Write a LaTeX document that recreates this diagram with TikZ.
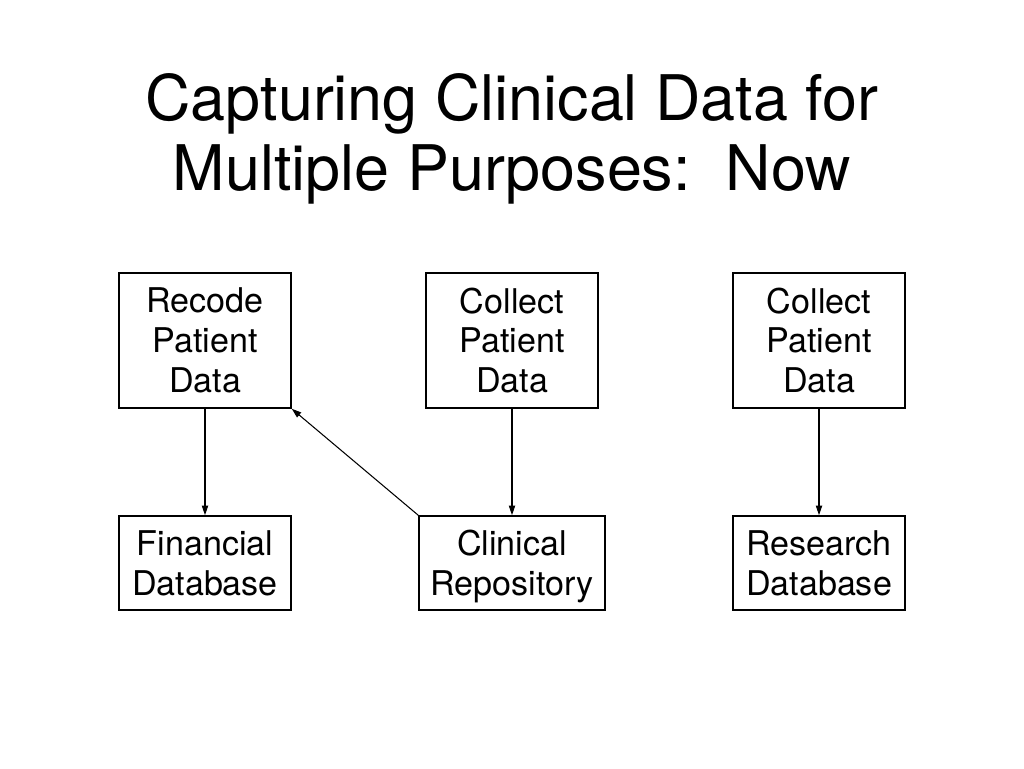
\documentclass[tikz,border=0pt]{standalone}
\usepackage{fontspec}
\setmainfont{TeX Gyre Heros}
\usetikzlibrary{arrows.meta}

\begin{document}
\begin{tikzpicture}[x=0.02cm, y=-0.02cm, line width=0.6pt,
		box/.style={draw, line width=0.9pt, align=center, inner sep=0pt,
			minimum width=3.44cm, font=\fontsize{19.4}{22.7}\selectfont},
		topbox/.style={box, minimum height=2.7cm},
		lowbox/.style={box, minimum height=1.88cm},
		link/.style={-{Triangle[length=5.5pt, width=3.6pt]}}]
		\useasboundingbox (0,0) rectangle (1024,768);

		\node[align=center, font=\fontsize{35.8}{39.7}\selectfont] (title) at (512,139)
			{Capturing Clinical Data for\\Multiple Purposes:\ \ Now};

		\node[topbox] (recode) at (205,340.5) {Recode\\Patient\\Data};
		\node[topbox] (collectA) at (512,340.5) {Collect\\Patient\\Data};
		\node[topbox] (collectB) at (819,340.5) {Collect\\Patient\\Data};

		\node[lowbox] (financial) at (205,563) {Financial\\Database};
		\node[lowbox, minimum width=3.72cm] (clinical) at (512,563)
			{Clinical\\\raisebox{0pt}[\height][0pt]{Repository}};
		\node[lowbox] (research) at (819,563) {Research\\Database};

		\foreach \a/\b in {recode/financial, collectA/clinical, collectB/research}
			\draw[link] (\a) -- (\b);
		\draw[link] (clinical.north west) -- (recode.south east);
	\end{tikzpicture}
\end{document}
